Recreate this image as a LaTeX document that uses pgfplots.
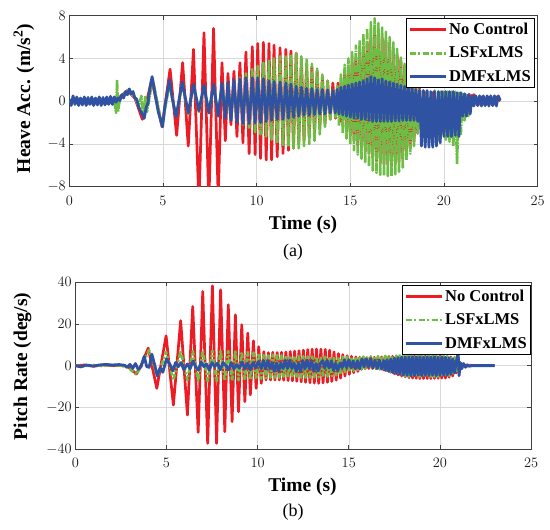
\documentclass[border=0pt]{standalone}
\usepackage{fontspec}
\setmainfont{Liberation Serif}
\usepackage{pgfplots}
\pgfplotsset{compat=1.18}
\definecolor{cred}{RGB}{237,28,36}
\definecolor{cgreen}{RGB}{108,190,69}
\definecolor{cblue}{RGB}{47,82,163}
\pgfplotsset{
  mystyle/.style={
    scale only axis, anchor=south west,
    xmin=0, xmax=25, xtick={0,5,...,25},
    grid=major, grid style={line width=0.5pt, draw=black!15},
    axis line style={line width=0.7pt, draw=black!75},
    tick style={draw=black!75, line width=0.6pt},
    tick align=inside, major tick length=4pt,
    tick label style={font=\fontsize{14}{16}\selectfont, text=black!90},
    xticklabel style={yshift=-6pt},
    legend cell align=left,
    legend style={draw=black, line width=0.8pt, fill=white,
      font=\fontsize{16.5}{18}\selectfont\bfseries,
      inner xsep=2pt, inner ysep=2.5pt, row sep=7pt,
      nodes={inner sep=2pt}},
    legend image code/.code={\draw[#1] (0pt,0pt) -- (36pt,0pt);},
  },
  redl/.style={draw=cred, line width=2.7pt, line join=round},
  greenl/.style={draw=cgreen, line width=2.6pt, line join=round, dash pattern=on 8pt off 1pt on 1.5pt off 1pt,
    legend image post style={dash pattern=on 6pt off 2.5pt on 2pt off 2.5pt}},
  greenp/.style={draw=cgreen, line width=2.6pt, line join=round, dash pattern=on 5pt off 2pt on 2pt off 2pt,
    legend image post style={dash pattern=on 6pt off 2.5pt on 2pt off 2.5pt}},
  bluel/.style={draw=cblue, line width=2.8pt, line join=round},
}
\begin{document}
\begin{tikzpicture}
\path[use as bounding box] (0,0) rectangle (550pt,530pt);
% ---------------- (a) Heave ----------------
\begin{axis}[mystyle, at={(69.3pt,343.3pt)}, width=468.3pt, height=171pt,
  ymin=-8, ymax=8, ytick={-8,-4,0,4,8},
  legend style={at={(rel axis cs:1,1)}, anchor=north east, xshift=-2.5pt, yshift=-2.5pt}]
\addplot[redl] coordinates {
(0,0)(0.5,0.2)(1,-0.2)(1.5,0.2)(2,-0.2)(2.4,0)(2.7,0.4)(3.1,1.0)(3.5,0.3)(3.9,-1.7)(4.4,2.0)(4.95,-2.4)(5.38,3.0)(5.73,-3.2)(6.05,3.6)(6.35,-4.2)(6.63,4.85)(6.92,-9.5)(7.19,6.4)(7.45,-9.5)(7.7,6.8)(7.95,-9)(8.15,3.6)(8.33,-3.7)(8.47,2.6)(8.63,-2.2)(8.79,2.8)(8.95,-3.3)(9.11,3.6)(9.27,-3.9)(9.43,4.6)(9.6,-4.9)(9.77,5.1)(9.92,-5.0)(10.06,5.4)(10.21,-5.35)(10.36,5.5)(10.51,-5.5)(10.66,5.4)(10.8,-5.5)(10.93,5.25)(11.1,-5.2)(11.25,5.0)(11.41,-4.9)(11.56,4.85)(11.7,-4.6)(11.83,4.7)(11.97,-4.4)(12.11,4.5)(12.25,-4.0)(12.39,4.0)(12.53,-3.7)(12.67,3.5)(12.81,-3.4)(12.95,3.2)(13.09,-3.0)(13.23,2.8)(13.37,-2.5)(13.51,2.3)(13.65,-2.1)(13.79,1.9)(13.93,-1.7)(14.07,1.7)(14.21,-1.6)(14.35,1.7)(14.5,-1.9)
(14.7,2.5)(14.8,-2.8)(14.9,3.1)(15.0,-3.2)(15.1,3.6)(15.2,-3.7)(15.3,4.1)(15.4,-4.1)(15.5,4.6)(15.6,-4.4)(15.7,5.1)(15.8,-4.7)(15.9,5.5)(16.0,-4.9)(16.1,6.0)(16.2,-5.3)(16.3,6.4)(16.4,-5.6)(16.5,6.4)(16.6,-5.8)(16.7,6.0)(16.8,-5.9)(16.9,5.7)(17.0,-5.9)(17.1,5.3)(17.2,-6.0)(17.3,4.9)(17.4,-5.9)(17.5,4.4)(17.6,-5.7)(17.7,3.9)(17.8,-5.4)(17.9,3.3)(18.0,-5.0)(18.1,2.7)(18.2,-4.4)(18.3,2.1)(18.4,-3.8)(18.5,1.6)(18.6,-3.0)(18.7,1.2)
(18.8,-2.5)(19.0,0.8)(19.2,-3)(19.4,0.8)(19.6,-3)(19.8,0.8)(20.0,-2.5)(20.2,0.8)(20.4,-2.5)(20.6,0.8)(20.8,-2.5)(21.0,0.6)(21.2,-1.0)(21.35,0.65)(21.5,-0.4)(21.6,0.62)(21.8,-0.4)(22.0,0.4)(22.2,-0.4)(22.4,0.4)(22.6,-0.4)(22.8,0.4)(23.0,0)
};
\addplot[greenl] coordinates {
(0,0)(0.6,0.2)(1.2,-0.2)(1.8,0.2)(2.4,-0.1)(2.5,-1.1)(2.55,2.0)(2.6,-1.0)(2.7,0.2)(3.1,1.0)(3.5,0.4)(3.7,-0.5)(3.85,0.5)(3.95,-1.5)(4.05,0.4)(4.15,-1.0)(4.45,2.1)(4.95,-2.3)(5.35,1.6)(5.7,-1.4)(6.03,1.6)(6.35,-1.2)(6.63,1.5)(6.92,-1.0)(7.19,1.4)(7.45,-1.1)(7.7,1.5)(7.95,-1.3)(8.15,1.6)(8.33,-1.5)(8.47,1.7)(8.63,-1.6)(8.79,1.9)(8.95,-1.9)(9.11,2.2)(9.27,-2.2)(9.43,2.6)(9.6,-2.6)(9.77,3.0)(9.92,-2.9)(10.06,3.3)(10.21,-3.1)(10.36,3.6)(10.51,-3.3)(10.66,3.8)(10.8,-3.6)(10.93,4.0)(11.1,-3.9)(11.25,4.2)(11.41,-4.1)(11.56,4.3)(11.7,-4.25)(11.83,4.4)(11.97,-4.4)(12.11,4.5)(12.25,-4.4)(12.39,4.2)(12.53,-4.2)(12.67,3.9)(12.81,-4.0)(12.95,3.5)(13.09,-3.7)(13.23,3.05)(13.37,-3.1)(13.51,2.5)(13.65,-2.4)(13.79,1.9)(13.93,-1.7)(14.07,1.1)(14.21,-1.5)
(14.3,1.5)(14.4,-2.2)(14.5,2.5)(14.6,-3.0)(14.7,3.4)(14.8,-3.5)(14.9,4.0)(15.0,-4.0)(15.1,4.6)(15.2,-4.6)(15.3,5.2)(15.4,-5.0)(15.5,5.7)(15.6,-5.4)(15.7,6.3)(15.8,-5.7)(15.9,6.8)(16.0,-6.1)(16.1,7.4)(16.2,-6.5)(16.3,7.75)(16.4,-6.7)(16.5,7.3)(16.6,-6.9)(16.7,6.9)(16.8,-6.95)(16.9,6.5)(17.0,-7.0)(17.1,6.0)(17.2,-7.0)(17.3,5.5)(17.4,-6.85)(17.5,4.9)(17.6,-6.6)(17.7,4.2)(17.8,-6.2)(17.9,3.5)(18.0,-5.5)(18.1,2.9)(18.2,-4.9)(18.3,2.2)(18.4,-4.2)(18.5,1.6)(18.6,-3.0)(18.7,1.2)
(18.8,-3.0)(18.9,1.0)(19.0,-3.5)(19.1,1.0)(19.3,-3.5)(19.5,1.0)(19.7,-3.6)(19.8,0.9)(19.9,-3.0)(20.0,0.9)(20.1,-3.6)(20.2,0.9)(20.3,-3.8)(20.4,0.9)(20.5,-4.2)(20.6,0.9)(20.7,-5.9)(20.8,0.8)(20.9,-3.2)(21.0,0.7)(21.1,-1.8)(21.2,0.6)(21.3,-1.4)(21.4,0.0)
};
\addplot[bluel] coordinates {
(0,0.2)(0.1,-0.4)(0.2,0.5)(0.3,-0.3)(0.4,0.4)(0.5,-0.4)(0.6,0.3)(0.7,-0.35)(0.8,0.4)(0.9,-0.4)(1.0,0.35)(1.1,-0.3)(1.2,0.4)(1.3,-0.4)(1.4,0.3)(1.5,-0.35)(1.6,0.4)(1.7,-0.4)(1.8,0.35)(1.9,-0.35)(2.0,0.4)(2.1,-0.3)(2.2,0.45)(2.3,-0.3)(2.4,0.4)
(2.5,-0.1)(2.6,0.3)(2.7,0.05)(2.8,0.6)(2.9,0.3)(3.0,0.9)(3.1,0.6)(3.2,1.15)(3.3,0.7)(3.4,0.9)(3.5,0.3)(3.6,0.2)(3.7,-0.5)(3.8,-0.9)(3.9,-1.2)(4.0,-1.6)(4.1,-0.6)(4.2,-0.2)(4.3,1.2)(4.42,2.3)(4.6,0.5)(4.75,-1.0)(4.98,-2.4)(5.1,-0.5)(5.35,2.0)(5.5,0.2)(5.7,-1.45)(6.03,1.8)(6.35,-1.1)(6.63,1.6)(6.92,-0.9)(7.19,1.5)(7.45,-1.1)(7.7,1.6)(7.95,-1.4)(8.15,1.7)(8.33,-1.6)(8.47,1.8)(8.63,-1.8)(8.79,2.0)(8.95,-2.0)(9.11,2.1)(9.27,-2.1)(9.43,2.2)(9.6,-2.1)(9.77,2.2)(9.92,-2.05)(10.06,2.2)(10.21,-2.0)(10.36,2.1)(10.51,-1.9)(10.66,1.9)(10.8,-1.8)(10.93,1.85)(11.1,-1.7)(11.25,1.8)(11.41,-1.7)(11.56,1.7)(11.7,-1.6)(11.83,1.6)(11.97,-1.5)(12.11,1.4)(12.25,-1.4)(12.39,1.3)(12.53,-1.3)(12.67,1.2)(12.81,-1.3)(12.95,1.2)(13.09,-1.25)(13.23,1.1)(13.37,-1.2)(13.51,1.1)(13.65,-1.2)(13.79,1.05)(13.93,-1.1)(14.07,1.0)
(14.2,-1.1)(14.3,1.1)(14.4,-1.2)(14.5,1.3)(14.6,-1.3)(14.7,1.4)(14.8,-1.4)(14.9,1.5)(15.0,-1.5)(15.1,1.6)(15.2,-1.6)(15.3,1.7)(15.4,-1.6)(15.5,1.8)(15.6,-1.7)(15.7,1.9)(15.8,-1.7)(15.9,2.1)(16.0,-1.8)(16.1,2.3)(16.2,-1.9)(16.3,2.2)(16.4,-1.9)(16.5,2.0)(16.6,-1.9)(16.7,2.1)(16.8,-1.9)(16.9,1.9)(17.0,-1.9)(17.1,1.8)(17.2,-1.9)(17.3,1.7)(17.4,-1.85)(17.5,1.6)(17.6,-1.85)(17.7,1.5)(17.8,-1.8)(17.9,1.4)(18.0,-1.8)(18.1,1.3)(18.2,-1.8)(18.3,1.2)(18.4,-1.8)(18.5,1.1)(18.6,-1.9)(18.7,1.0)
(18.8,-4.2)(18.9,1.0)(19.0,-4.3)(19.1,1.0)(19.2,-4.3)(19.3,0.9)(19.4,-4.3)(19.5,0.9)(19.6,-4.2)(19.7,0.9)(19.8,-3.9)(19.9,0.9)(20.0,-3.3)(20.1,0.9)(20.2,-3.3)(20.3,0.9)(20.4,-3.3)(20.5,0.9)(20.6,-3.2)(20.7,0.8)(20.8,-3.3)(20.9,0.8)(21.0,-1.4)(21.1,0.7)(21.2,-1.4)(21.3,0.6)(21.4,-1.2)
(21.5,0.55)(21.6,-0.45)(21.7,0.5)(21.8,-0.4)(21.9,0.5)(22.0,-0.45)(22.1,0.5)(22.2,-0.4)(22.3,0.5)(22.4,-0.45)(22.5,0.5)(22.6,-0.4)(22.7,0.5)(22.8,-0.45)(22.9,0.5)(23.0,0.1)
};
\legend{No Control, LSFxLMS, DMFxLMS}
\end{axis}
% ---------------- (b) Pitch ----------------
\begin{axis}[mystyle, at={(75.3pt,81pt)}, width=455.8pt, height=166.7pt,
  ymin=-40, ymax=40, ytick={-40,-20,0,20,40},
  legend style={at={(rel axis cs:1,1)}, anchor=north east, xshift=0pt, yshift=-2.7pt}]
\addplot[redl] coordinates {
(0,0)(0.5,0.3)(1,-0.3)(1.5,0.3)(2,0)(2.5,0.2)(2.9,-0.5)(3.35,-4.0)(3.6,0)(4.0,8.4)(4.47,-10.9)(4.98,14.3)(5.38,-18.9)(5.78,21.6)(6.15,-23.7)(6.44,28.4)(6.74,-32)(6.99,35.6)(7.26,-37.3)(7.52,38.3)(7.75,-37.3)(7.97,36.4)(8.2,-31.7)(8.39,29.2)(8.6,-26.9)(8.78,24.4)(8.95,-22.1)(9.13,19.6)(9.3,-17.3)(9.46,15.6)(9.6,-14)(9.77,11.9)(9.92,-10.9)(10.06,9.1)(10.2,-8.5)(10.34,6.7)(10.46,-6.9)(10.59,6.2)
(10.71,-6.9)(10.83,6.4)(10.95,-6.9)(11.07,6.3)(11.19,-6.9)(11.31,6.4)(11.43,-7.0)(11.55,6.6)(11.67,-7.2)(11.79,6.8)(11.91,-7.3)(12.03,7.0)(12.15,-7.5)(12.27,7.2)(12.39,-7.8)(12.51,7.4)(12.63,-8.0)(12.75,7.7)(12.87,-8.2)(12.99,7.9)(13.11,-8.4)(13.23,8.0)(13.35,-8.5)(13.47,7.9)(13.59,-8.3)(13.71,7.8)(13.83,-8.0)(13.95,7.4)(14.07,-7.6)(14.19,6.6)(14.31,-7.0)(14.43,5.8)(14.55,-6.0)(14.67,5.3)(14.79,-5.0)(14.91,4.8)(15.03,-4.2)(15.15,4.5)(15.27,-3.4)(15.39,4.2)(15.5,-2.8)
(15.6,4.0)(15.7,-1.8)(15.8,3.9)(15.9,-1.5)(16.0,3.8)(16.1,-1.4)(16.2,3.9)(16.3,-1.4)(16.4,4.0)(16.5,-1.5)(16.6,4.1)(16.7,-1.7)(16.8,4.2)(16.9,-2.0)(17.0,4.3)(17.1,-2.5)(17.2,4.4)(17.3,-3.2)(17.4,4.5)(17.5,-3.9)(17.6,4.5)(17.7,-4.5)(17.8,4.6)(17.9,-5.0)(18.0,4.6)(18.1,-5.4)(18.2,4.6)(18.3,-5.8)(18.4,4.6)(18.5,-6.0)(18.6,4.6)(18.7,-6.1)(18.8,4.6)(18.9,-6.2)(19.0,4.6)(19.1,-6.2)(19.2,4.6)(19.3,-6.2)(19.4,4.6)(19.5,-6.2)(19.6,4.6)(19.7,-6.1)(19.8,4.6)(19.9,-6.1)(20.0,4.6)(20.1,-6.0)(20.2,4.5)(20.3,-6.0)(20.4,4.4)(20.5,-5.6)(20.6,4.2)(20.7,-5.0)(20.8,4.0)(20.9,-3.5)(21.0,2.0)
(21.1,-1)(21.25,0.8)(21.4,-0.5)(21.6,0.2)(22,0)(23,0)
};
\addplot[greenp] coordinates {
(0,0)(0.5,-0.3)(1,0.3)(1.5,-0.2)(2,0.3)(2.5,0)(2.9,-1)(3.35,-4.3)(3.7,1)(4.05,7.5)(4.5,-5.3)(4.98,6.5)(5.38,-7)(5.78,7)(6.15,-7)(6.44,7)(6.74,-7.3)(6.99,7.2)(7.26,-7.5)(7.52,7.2)(7.75,-7.5)(7.97,7)(8.2,-7.3)(8.39,7)(8.6,-7.2)(8.78,6.8)(8.95,-7)(9.13,6.7)(9.3,-6.9)(9.46,6.5)(9.6,-6.8)(9.77,6.3)(9.92,-6.5)(10.06,6)(10.2,-6.3)(10.34,5.8)(10.46,-6)(10.59,5.5)
(10.71,-5.8)(10.83,5.2)(10.95,-5.8)(11.07,5.0)(11.19,-5.8)(11.31,4.9)(11.43,-5.8)(11.55,4.8)(11.67,-5.8)(11.79,4.7)(11.91,-5.8)(12.03,4.6)(12.15,-5.8)(12.27,4.5)(12.39,-5.8)(12.51,4.5)(12.63,-5.8)(12.75,4.4)(12.87,-5.7)(12.99,4.4)(13.11,-5.6)(13.23,4.3)(13.35,-5.5)(13.47,4.3)(13.59,-5.4)(13.71,4.3)(13.83,-5.2)(13.95,4.3)(14.07,-5.0)(14.19,4.3)(14.31,-4.6)(14.43,4.3)(14.55,-4.1)(14.67,4.3)(14.79,-3.6)(14.91,4.3)(15.03,-3.0)(15.15,4.3)(15.27,-2.5)(15.39,4.3)(15.5,-2.0)
(15.6,4.4)(15.7,-1.6)(15.8,4.4)(15.9,-1.4)(16.0,4.5)(16.1,-1.3)(16.2,4.5)(16.3,-1.3)(16.4,4.5)(16.5,-1.4)(16.6,4.6)(16.7,-1.6)(16.8,4.6)(16.9,-2.0)(17.0,4.7)(17.1,-2.5)(17.2,4.7)(17.3,-3.2)(17.4,4.8)(17.5,-3.8)(17.6,4.8)(17.7,-4.3)(17.8,4.9)(17.9,-4.8)(18.0,4.9)(18.1,-5.1)(18.2,4.9)(18.3,-5.3)(18.4,4.9)(18.5,-5.3)(18.6,4.9)(18.7,-5.3)(18.8,4.9)(18.9,-5.3)(19.0,4.9)(19.1,-5.3)(19.2,4.9)(19.3,-5.3)(19.4,4.9)(19.5,-5.3)(19.6,4.8)(19.7,-5.3)(19.8,4.8)(19.9,-5.3)(20.0,4.8)(20.1,-5.2)(20.2,4.7)(20.3,-5.0)(20.4,4.6)(20.5,-4.8)(20.6,4.4)(20.7,-4.3)(20.8,4.0)(20.9,-3.3)(21.0,2.5)(21.1,-1.0)(21.2,0.3)(21.4,0)(23,0)
};
\addplot[bluel] coordinates {
(0,0)(0.3,-0.6)(0.6,0.3)(1.0,-0.2)(1.3,0.3)(1.7,0.6)(2.0,0.3)(2.4,0.5)(2.7,0.2)(2.85,-0.8)(3.0,0.6)(3.15,-1.3)(3.3,1.0)(3.45,-1.8)(3.6,-0.6)(3.78,4.5)(3.92,-0.5)(4.05,-0.8)(4.2,5.5)(4.35,0.5)(4.5,-5.0)(4.65,-1.0)(4.8,-3.2)(5.0,3.2)(5.2,0.5)(5.35,-2.5)(5.5,1.5)(5.65,-0.5)(5.8,1.5)(5.95,-2.0)(6.15,0.8)(6.3,-1.5)(6.45,2.2)(6.6,-0.5)(6.75,-2.2)(6.9,1.8)(7.05,-0.5)(7.2,0.8)(7.35,-2.2)(7.5,1.5)(7.65,-0.5)(7.8,1.2)(7.95,-2)(8.1,1.5)(8.25,0)(8.4,-2)(8.55,1.5)(8.7,-1.5)(8.85,0.5)(9.0,-1.2)(9.15,1.8)(9.3,-1.5)(9.45,1.2)(9.6,-2)(9.75,1.5)(9.9,-1)(10.05,2)(10.2,-1.5)
(10.32,2.5)(10.44,-1.5)(10.56,2.5)(10.68,-1.5)(10.80,1.3)(10.92,-2.7)(11.04,1.3)(11.16,-2.7)(11.28,1.3)(11.40,-1.4)(11.52,2.6)(11.64,-1.4)(11.76,2.6)(11.88,-1.4)(12.00,1.2)(12.12,-2.8)(12.24,1.2)(12.36,-2.8)(12.48,2.5)(12.60,-1.5)(12.72,2.5)(12.84,-1.5)(12.96,2.5)(13.08,-2.6)(13.20,1.0)(13.32,-2.6)(13.44,1.0)(13.56,2.4)(13.68,-1.2)(13.80,2.4)(13.92,-1.2)(14.04,2.4)(14.16,-2.4)(14.28,1.2)(14.40,-2.4)(14.52,1.2)(14.64,-1.0)(14.76,2.8)(14.88,-1.0)(15.00,2.8)(15.12,-1.0)(15.24,2.3)(15.36,-1.5)(15.48,2.3)(15.60,-1.5)(15.72,3.2)(15.84,-0.6)(15.96,3.3)(16.08,-0.6)(16.20,3.3)(16.32,-1.2)(16.44,2.6)(16.56,-1.4)(16.68,2.6)(16.80,-1.6)(16.92,2.4)
(17.0,-2.3)(17.1,2.8)(17.2,-2.8)(17.3,3.2)(17.4,-3.3)(17.5,3.6)(17.6,-3.8)(17.7,3.9)(17.8,-4.2)(17.9,4.1)(18.0,-4.5)(18.1,4.2)(18.2,-4.7)(18.3,4.3)(18.4,-4.8)(18.5,4.3)(18.6,-4.8)(18.7,4.2)(18.8,-4.6)(18.9,4.3)(19.0,-4.8)(19.1,4.1)(19.2,-4.6)(19.3,4.3)(19.4,-4.8)(19.5,4.2)(19.6,-4.6)(19.7,4.3)(19.8,-4.8)(19.9,4.1)(20.0,-4.7)(20.1,4.2)(20.2,-4.5)(20.3,4.0)(20.4,-4.6)(20.5,3.8)(20.6,-4.2)(20.7,3.2)(20.8,-3.5)(20.9,2.0)(21.0,6.1)(21.05,-4.8)(21.12,1.5)(21.2,-1.5)(21.3,1.0)(21.4,-0.8)(21.5,0.4)(21.6,-0.3)(21.8,0)(23.0,0)
};
\legend{No Control, LSFxLMS, DMFxLMS}
\end{axis}
% labels
\node[font=\fontsize{19.5}{22}\selectfont\bfseries] at (303pt,305pt) {Time (s)};
\node[font=\fontsize{19.5}{22}\selectfont\bfseries, rotate=90] at (24pt,431.5pt) {Heave Acc. (m/s\textsuperscript{2})};
\node[font=\fontsize{18}{20}\selectfont] at (293pt,278pt) {(a)};
\node[font=\fontsize{19.5}{22}\selectfont\bfseries] at (302.5pt,43pt) {Time (s)};
\node[font=\fontsize{19.5}{22}\selectfont\bfseries, rotate=90] at (22.5pt,163.5pt) {Pitch Rate (deg/s)};
\node[font=\fontsize{18}{20}\selectfont] at (293pt,18pt) {(b)};
\end{tikzpicture}
\end{document}
